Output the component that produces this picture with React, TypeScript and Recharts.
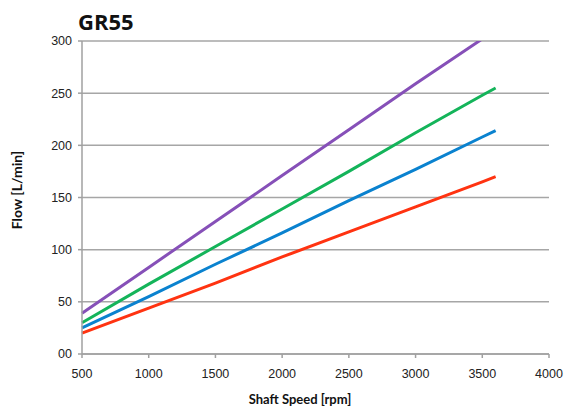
import React from 'react';
import { LineChart, Line, XAxis, YAxis, CartesianGrid } from 'recharts';

// shaft speed points [rpm]
const rpm = [500, 1000, 1500, 2000, 2500, 3000, 3500, 3600];

// flow [L/min], one array per curve
const purpleFlow = [39, 83, 127, 171, 215, 259, 302, null];
const greenFlow = [30, 67, 103, 139, 175, 212, 248, 255];
const blueFlow = [25, 55, 86, 116, 147, 177, 208, 214];
const redFlow = [20, 44, 68, 93, 117, 141, 165, 170];

const xTicks = [500, 1000, 1500, 2000, 2500, 3000, 3500, 4000];
const yTicks = [0, 50, 100, 150, 200, 250, 300];

const data = rpm.map((r, i) => ({
  rpm: r,
  purple: purpleFlow[i],
  green: greenFlow[i],
  blue: blueFlow[i],
  red: redFlow[i],
}));

const tickStyle = { fontFamily: 'Liberation Sans, Arial, sans-serif', fontSize: 12.5, fill: '#222' };
const axisTitle: React.CSSProperties = {
  position: 'absolute',
  fontFamily: 'Lato, sans-serif',
  fontWeight: 700,
  fontSize: 13,
  lineHeight: 1,
  color: '#111',
  whiteSpace: 'nowrap',
};

const App: React.FC = () => {
  return (
    <div style={{ position: 'absolute', left: 0, top: 0, width: 569, height: 408, background: '#fff' }}>
      <LineChart width={569} height={408} data={data} margin={{ top: 41, right: 20, bottom: 0, left: 0 }}>
        <CartesianGrid vertical={false} stroke="#a6a6a6" strokeWidth={1.5} />
        <XAxis
          dataKey="rpm"
          type="number"
          domain={[500, 4000]}
          ticks={xTicks}
          height={54}
          stroke="#a0a0a0"
          strokeWidth={1.5}
          tickSize={4}
          tickMargin={11}
          tick={tickStyle}
        />
        <YAxis
          type="number"
          domain={[0, 300]}
          ticks={yTicks}
          allowDataOverflow
          width={82}
          stroke="#a0a0a0"
          strokeWidth={1.5}
          tickSize={4}
          tickMargin={6}
          tick={tickStyle}
          tickFormatter={(v: number) => (v === 0 ? '00' : String(v))}
        />
        <Line dataKey="purple" stroke="#8650b8" strokeWidth={3} dot={false} isAnimationActive={false} connectNulls />
        <Line dataKey="green" stroke="#14b45a" strokeWidth={3} dot={false} isAnimationActive={false} />
        <Line dataKey="blue" stroke="#0a82cf" strokeWidth={3} dot={false} isAnimationActive={false} />
        <Line dataKey="red" stroke="#ff3311" strokeWidth={3} dot={false} isAnimationActive={false} />
      </LineChart>

      {/* chart title and axis titles */}
      <div
        style={{
          position: 'absolute',
          left: 78,
          top: 10,
          fontFamily: 'Open Sans, sans-serif',
          fontWeight: 700,
          fontSize: 22,
          lineHeight: 1,
          color: '#111',
        }}
      >
        GR55
      </div>
      <div style={{ ...axisTitle, left: 300, top: 393, transform: 'translateX(-50%)' }}>Shaft Speed [rpm]</div>
      <div
        style={{
          ...axisTitle,
          fontSize: 14,
          left: 17,
          top: 190,
          transform: 'translate(-50%, -50%) rotate(-90deg)',
        }}
      >
        Flow [L/min]
      </div>
    </div>
  );
};

export default App;
